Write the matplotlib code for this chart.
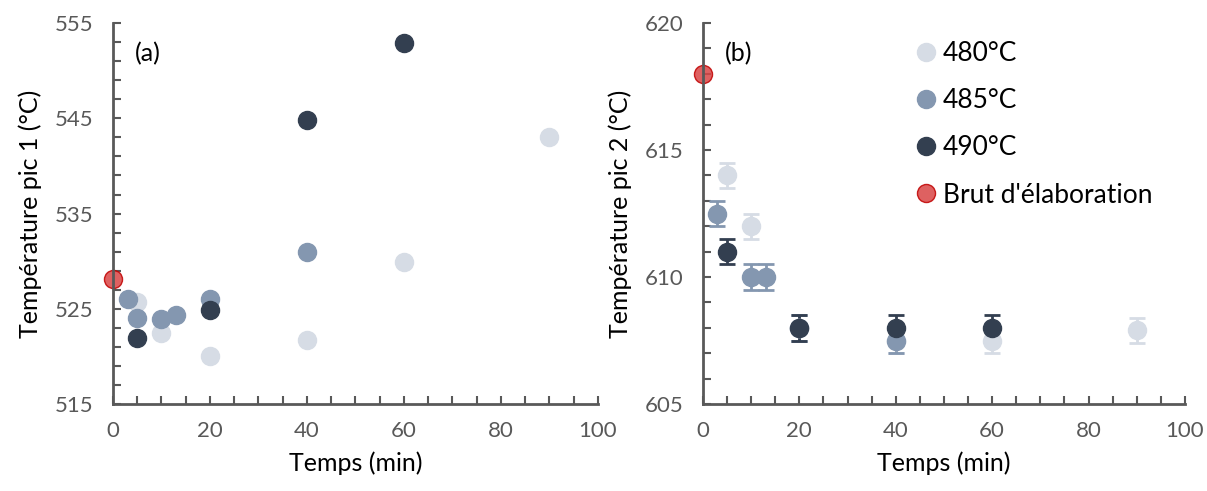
import numpy as np
import matplotlib.pyplot as plt
from matplotlib.ticker import MultipleLocator

plt.rcParams['font.family'] = ['Lato', 'DejaVu Sans']

# Panel (a): température pic 1
t480_a = [5, 10, 20, 40, 60, 90]
y480_a = [525.7, 522.5, 520.0, 521.7, 529.9, 543.0]
t485_a = [3, 5, 10, 13, 20, 40]
y485_a = [526.0, 524.0, 523.9, 524.4, 526.0, 531.0]
t490_a = [5, 20, 40, 60]
y490_a = [521.9, 524.9, 544.8, 552.9]
brut_a = 528.1

# Panel (b): température pic 2
t480_b = [5, 10, 20, 40, 60, 90]
y480_b = [614.0, 612.0, 608.0, 607.5, 607.5, 607.9]
t485_b = [3, 10, 13, 20, 40]
y485_b = [612.5, 610.0, 610.0, 608.0, 607.5]
t490_b = [5, 20, 40, 60]
y490_b = [611.0, 608.0, 608.0, 608.0]
brut_b = 618.0
err_b = 0.5

c480, c485, c490 = '#D6DCE5', '#8497B0', '#333F50'
c_brut = '#D94545'
grey = '#595959'
ms = 13

fig = plt.figure(figsize=(12.07, 4.91), dpi=100)
ax1 = fig.add_axes([0.0936, 0.177, 0.4018, 0.776])
ax2 = fig.add_axes([0.5824, 0.177, 0.3993, 0.776])


def style(ax, ylim, ymaj, ymin, ylabel, tag):
    ax.set_xlim(0, 100)
    ax.set_ylim(*ylim)
    ax.xaxis.set_major_locator(MultipleLocator(20))
    ax.xaxis.set_minor_locator(MultipleLocator(5))
    ax.set_yticks(np.arange(ylim[0], ylim[1] + 0.1, ymaj))
    ax.set_yticks(np.arange(ylim[0], ylim[1] + 0.1, ymin), minor=True)
    for s in ['top', 'right']:
        ax.spines[s].set_visible(False)
    for s in ['left', 'bottom']:
        ax.spines[s].set_color(grey)
        ax.spines[s].set_linewidth(2)
    ax.tick_params(which='both', direction='in', color=grey, width=1.5,
                   length=6, labelsize=16, labelcolor=grey)
    ax.tick_params(axis='x', pad=12)
    ax.tick_params(axis='y', pad=14)
    ax.set_xlabel('Temps (min)', fontsize=18, labelpad=8)
    ax.set_ylabel(ylabel, fontsize=18, labelpad=9)
    ax.text(0.045, 0.92, tag, transform=ax.transAxes, fontsize=18,
            va='center', ha='left')


style(ax1, (515, 555), 10, 2, 'Température pic 1 (°C)', '(a)')
ax1.plot(t480_a, y480_a, 'o', color=c480, ms=ms, clip_on=False)
ax1.plot(t485_a, y485_a, 'o', color=c485, ms=ms, clip_on=False)
ax1.plot(t490_a, y490_a, 'o', color=c490, ms=ms, clip_on=False)
ax1.plot([0], [brut_a], 'o', color=c_brut, mec='#C00000', ms=ms, alpha=0.85,
         clip_on=False)

style(ax2, (605, 620), 5, 1, 'Température pic 2 (°C)', '(b)')
h1 = ax2.errorbar(t480_b, y480_b, yerr=err_b, fmt='o', color=c480, ms=ms,
                  capsize=6, elinewidth=2, capthick=2, clip_on=False)
h2 = ax2.errorbar(t485_b, y485_b, yerr=err_b, fmt='o', color=c485, ms=ms,
                  capsize=6, elinewidth=2, capthick=2, clip_on=False)
h3 = ax2.errorbar(t490_b, y490_b, yerr=err_b, fmt='o', color=c490, ms=ms,
                  capsize=6, elinewidth=2, capthick=2, clip_on=False)
h4, = ax2.plot([0], [brut_b], 'o', color=c_brut, mec='#C00000', ms=ms,
               alpha=0.85, clip_on=False)

ax2.legend([h1[0], h2[0], h3[0], h4],
           ['480°C', '485°C', '490°C', "Brut d'élaboration"],
           loc='upper left', bbox_to_anchor=(0.38, 1.015), frameon=False,
           fontsize=19, handletextpad=0.05, handlelength=1.2,
           labelspacing=0.84, markerscale=1.0)

fig.savefig('out.png', dpi=100)
